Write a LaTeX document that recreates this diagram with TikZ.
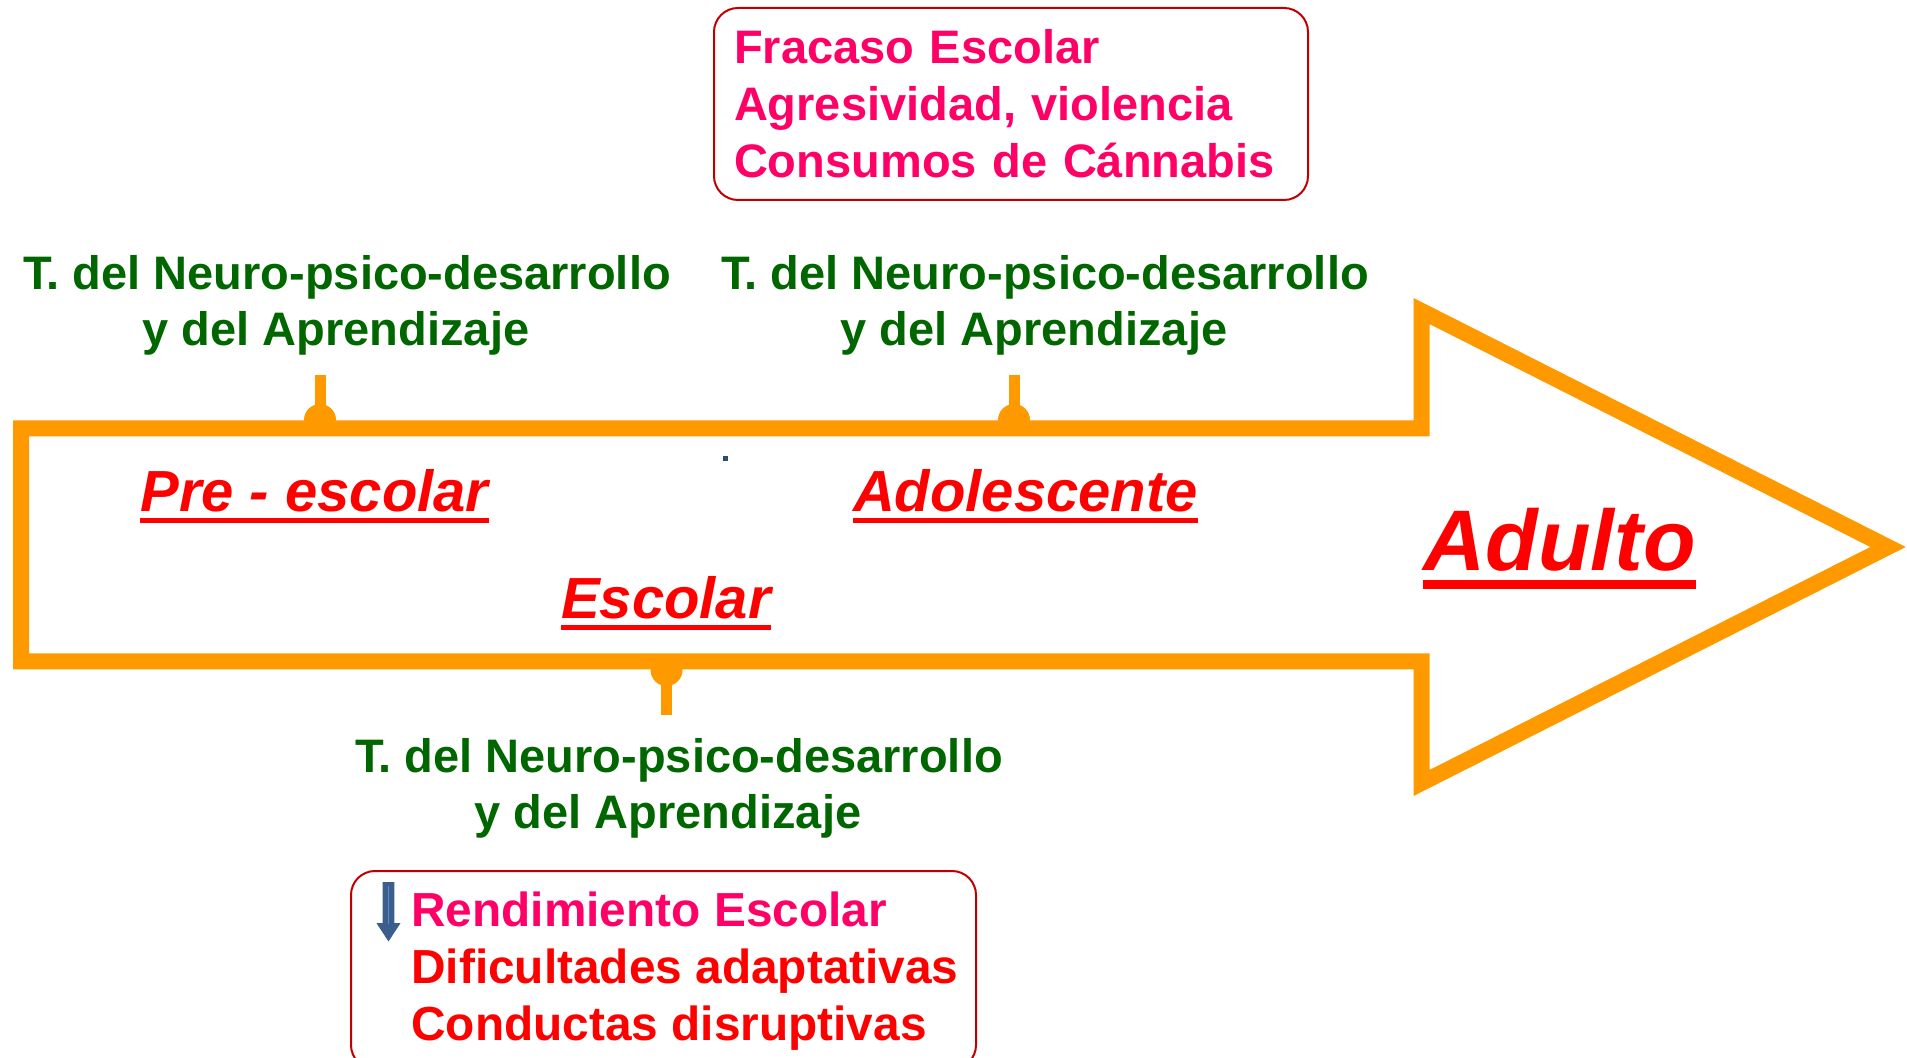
\documentclass[tikz,border=0pt]{standalone}
\usepackage{fontspec}
\setmainfont{Liberation Sans}
\usepackage{tikz}
\usetikzlibrary{positioning}
\definecolor{naranja}{HTML}{FF9900}
\definecolor{verde}{HTML}{006600}
\definecolor{rosa}{HTML}{FF0066}
\definecolor{rojo}{HTML}{FF0000}
\definecolor{borde}{HTML}{C00000}
\definecolor{azul}{HTML}{3B5E8C}
\definecolor{azulclaro}{HTML}{5B8AC6}

\begin{document}
\begin{tikzpicture}[x=0.5pt,y=-0.5pt,
  etapa/.style={text=rojo,font=\fontsize{29}{34}\selectfont\bfseries\itshape,inner sep=0pt,anchor=base},
  subraya/.style={rojo,line width=2.6pt},
  trastorno/.style={text=verde,font=\fontsize{23.5}{28}\selectfont\bfseries,align=center,inner sep=0pt},
  riesgo/.style={draw=borde,line width=1pt,rounded corners=12pt},
  pin/.style={naranja,line width=5.5pt}]
  \useasboundingbox (0,0) rectangle (1907,1058);

  % flecha
  \draw[naranja,line width=8pt] (21,428.5) -- (1421.5,428.5) -- (1421.5,311) -- (1888,547)
    -- (1421.5,783) -- (1421.5,661.5) -- (21,661.5) -- cycle;

  \coordinate (pinpre) at (320,420);
  \coordinate (pinado) at (1014,420);
  \coordinate (pinesc) at (666.5,670);
  \foreach \p in {pinpre,pinado,pinesc} \fill[naranja] (\p) circle[radius=16];
  \draw[pin] (pinpre) -- ++(0,-45);
  \draw[pin] (pinado) -- ++(0,-45);
  \draw[pin] (pinesc) -- ++(0,45);

  % etapas
  \node[etapa] (preescolar) at (314.5,512) {Pre - escolar};
  \node[etapa] (adolescente) at (1025.5,512) {Adolescente};
  \node[etapa] (escolar) at (666,619) {Escolar};
  \node[etapa,font=\fontsize{43}{50}\selectfont\bfseries\itshape] (adulto) at (1559.5,571) {Adulto};
  \foreach \n in {preescolar,adolescente,escolar}
    \draw[subraya] ([yshift=-4.3pt]\n.base west) -- ([yshift=-4.3pt]\n.base east);
  \draw[subraya,line width=4.5pt] ([yshift=-6.8pt]adulto.base west) -- ([yshift=-6.8pt]adulto.base east);

  \fill[azul!80!black] (723,456) rectangle (728,461);

  % trastornos
  \node[trastorno] (tpre) at (347,305) {T. del Neuro-psico-desarrollo\\y del Aprendizaje\hspace*{11pt}};
  \node[trastorno] (tado) at (1045,305) {T. del Neuro-psico-desarrollo\\y del Aprendizaje\hspace*{11pt}};
  \node[trastorno] (tesc) at (679,788) {T. del Neuro-psico-desarrollo\\y del Aprendizaje\hspace*{11pt}};

  % consecuencias
  \node[riesgo,anchor=north west,inner xsep=10pt,text width=277pt,minimum height=96pt,align=left,
    text=rosa,font=\fontsize{23.5}{28.5}\selectfont\bfseries] (adoriesgo) at (713,7)
    {Fracaso Escolar\\Agresividad, violencia\\Consumos de Cánnabis};

  \node[riesgo,anchor=north west,minimum width=312.5pt,minimum height=99pt] (cajaesc) at (350,870) {};
  \node[anchor=west,align=left,inner sep=0pt,font=\fontsize{23.9}{28.6}\selectfont\bfseries] (escriesgo) at (411,971)
    {\textcolor{rosa}{Rendimiento Escolar}\\\textcolor{rojo}{Dificultades adaptativas}\\\textcolor{rojo}{Conductas disruptivas}};
  \draw[azul,fill=azul,line width=0.8pt] (383.5,883) -- (393.5,883) -- (393.5,924) -- (399,924)
    -- (388.5,940) -- (378,924) -- (383.5,924) -- cycle;
  \draw[azulclaro,line width=0.8pt] (388.5,886) -- (388.5,924);
\end{tikzpicture}
\end{document}
